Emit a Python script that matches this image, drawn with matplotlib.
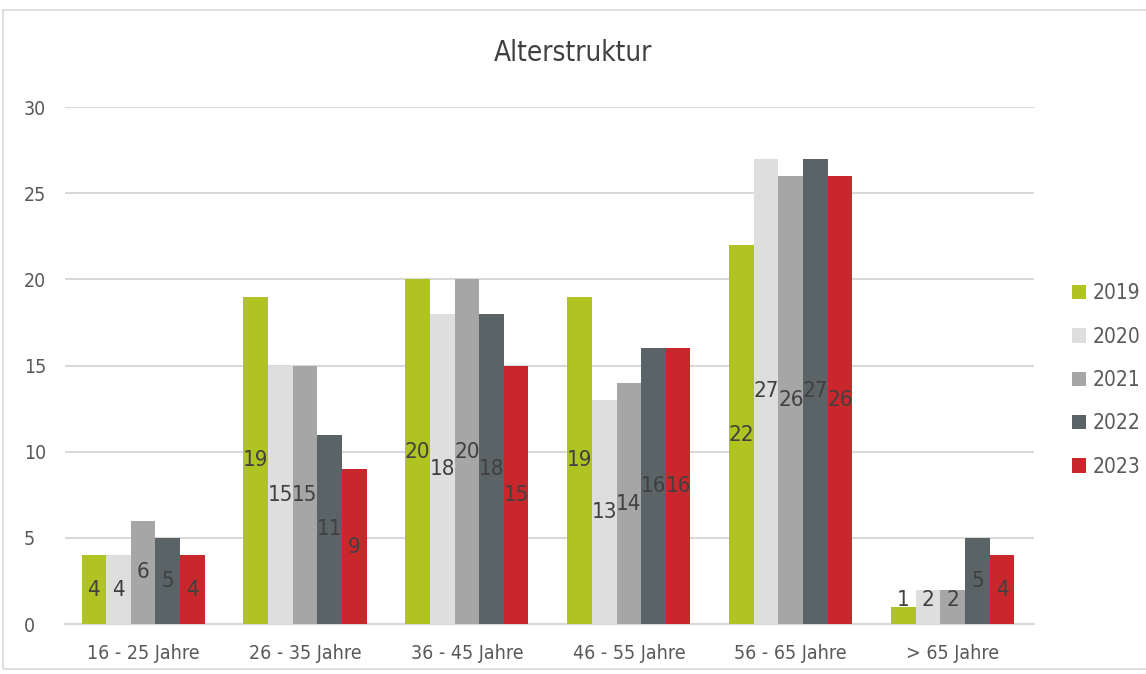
import numpy as np
import matplotlib
matplotlib.use("Agg")
import matplotlib.pyplot as plt
from matplotlib.patches import Rectangle

categories = ["16 - 25 Jahre", "26 - 35 Jahre", "36 - 45 Jahre", "46 - 55 Jahre", "56 - 65 Jahre", "> 65 Jahre"]
years = ["2019", "2020", "2021", "2022", "2023"]
v2019 = [4, 19, 20, 19, 22, 1]
v2020 = [4, 15, 18, 13, 27, 2]
v2021 = [6, 15, 20, 14, 26, 2]
v2022 = [5, 11, 18, 16, 27, 5]
v2023 = [4, 9, 15, 16, 26, 4]
series = [v2019, v2020, v2021, v2022, v2023]
colors = ["#afc423", "#dedede", "#a6a6a6", "#5a6467", "#c8282b"]

plt.rcParams['font.family'] = ['DejaVu Sans']
plt.rcParams['font.stretch'] = 'condensed'
txt = "#404040"

fig = plt.figure(figsize=(11.46, 6.74), dpi=100)
ax = fig.add_axes([0.057, 0.074, 0.845, 0.767])

# light frame around the chart area
fig.patches.append(Rectangle((0.003, 0.008), 1.2, 0.977, transform=fig.transFigure,
                             fill=False, edgecolor="#d9d9d9", linewidth=1.2))

x = np.arange(len(categories))
w = 0.152
for i, (vals, c, yr) in enumerate(zip(series, colors, years)):
    pos = x + (i - 2) * w
    ax.bar(pos, vals, width=w, color=c, label=yr, zorder=3)
    for p, v in zip(pos, vals):
        ax.text(p, max(v / 2, 1.4), str(v), ha="center", va="center",
                fontsize=16, color=txt, zorder=4)

ax.set_ylim(0, 30)
ax.set_xlim(-0.48, 5.5)
ax.set_yticks(range(0, 31, 5))
ax.set_xticks(x)
ax.set_xticklabels(categories)
ax.tick_params(length=0, labelsize=14, labelcolor="#595959")
ax.tick_params(axis="y", pad=30)
ax.tick_params(axis="x", pad=14)
for lab in ax.get_yticklabels():
    lab.set_horizontalalignment("left")
ax.yaxis.grid(True, color="#d9d9d9", linewidth=1.5, zorder=0)
for s in ["top", "right", "left"]:
    ax.spines[s].set_visible(False)
ax.spines["bottom"].set_color("#d9d9d9")
ax.spines["bottom"].set_linewidth(1.5)

fig.text(0.5, 0.922, "Alterstruktur", ha="center", va="center", fontsize=20, color="#404040")

ax.legend(loc="center left", bbox_to_anchor=(1.02, 0.472), frameon=False,
          fontsize=15, labelcolor="#595959", handlelength=0.7, handleheight=0.7,
          handletextpad=0.3, labelspacing=1.12)

fig.savefig("out.png", dpi=100)
